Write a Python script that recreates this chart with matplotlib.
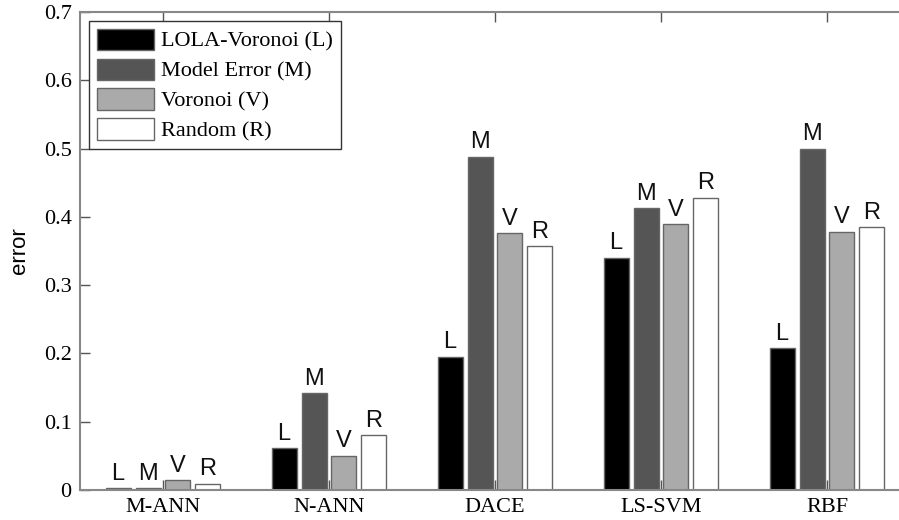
import matplotlib.pyplot as plt
import numpy as np

categories = ['M-ANN', 'N-ANN', 'DACE', 'LS-SVM', 'RBF']
series_names = ['LOLA-Voronoi (L)', 'Model Error (M)', 'Voronoi (V)', 'Random (R)']
series_tags = ['L', 'M', 'V', 'R']
lola = [0.003, 0.061, 0.195, 0.340, 0.208]
model_err = [0.003, 0.142, 0.488, 0.413, 0.500]
voronoi = [0.014, 0.050, 0.376, 0.389, 0.378]
rand = [0.009, 0.080, 0.357, 0.428, 0.385]
yticks = [0, 0.1, 0.2, 0.3, 0.4, 0.5, 0.6, 0.7]
ytick_labels = ['0', '0.1', '0.2', '0.3', '0.4', '0.5', '0.6', '0.7']

colors = ['#000000', '#555555', '#aaaaaa', '#ffffff']
series = [lola, model_err, voronoi, rand]

fig = plt.figure(figsize=(8.99, 5.2), dpi=100)
ax = fig.add_axes([80 / 899, 30 / 520, 830 / 899, 478 / 520])

x = np.arange(1, len(categories) + 1)
step = 0.18
width = 0.15
for i, (vals, name, tag, c) in enumerate(zip(series, series_names, series_tags, colors)):
    pos = x + (i - 1.5) * step
    ax.bar(pos, vals, width, color=c, edgecolor='#666666', linewidth=1.0, label=name)
    for p, v in zip(pos, vals):
        ax.text(p, v + 0.005, tag, ha='center', va='bottom', fontsize=17,
                family='Liberation Sans', color='#111111')

ax.set_xlim(0.5, 5.5)
ax.set_ylim(0, 0.7)
ax.set_xticks(x)
ax.set_xticklabels(categories, family='Liberation Serif', fontsize=16)
ax.set_yticks(yticks)
ax.set_yticklabels(ytick_labels, family='Liberation Serif', fontsize=16)
ax.tick_params(direction='in', length=7, width=1, color='#555555',
               top=True, right=True, pad=6)
for s in ax.spines.values():
    s.set_color('#888888')
    s.set_linewidth(1.5)

ax.set_ylabel('error', family='Liberation Sans', fontsize=16, labelpad=10)

leg = ax.legend(loc='upper left', prop={'family': 'Liberation Serif', 'size': 16},
                fancybox=False, edgecolor='#333333', framealpha=1,
                handlelength=2.6, handleheight=1.1, handletextpad=0.3,
                labelspacing=0.3, borderaxespad=0.4, borderpad=0.35)
leg.get_frame().set_linewidth(1.0)

fig.savefig('out.png', dpi=100)
